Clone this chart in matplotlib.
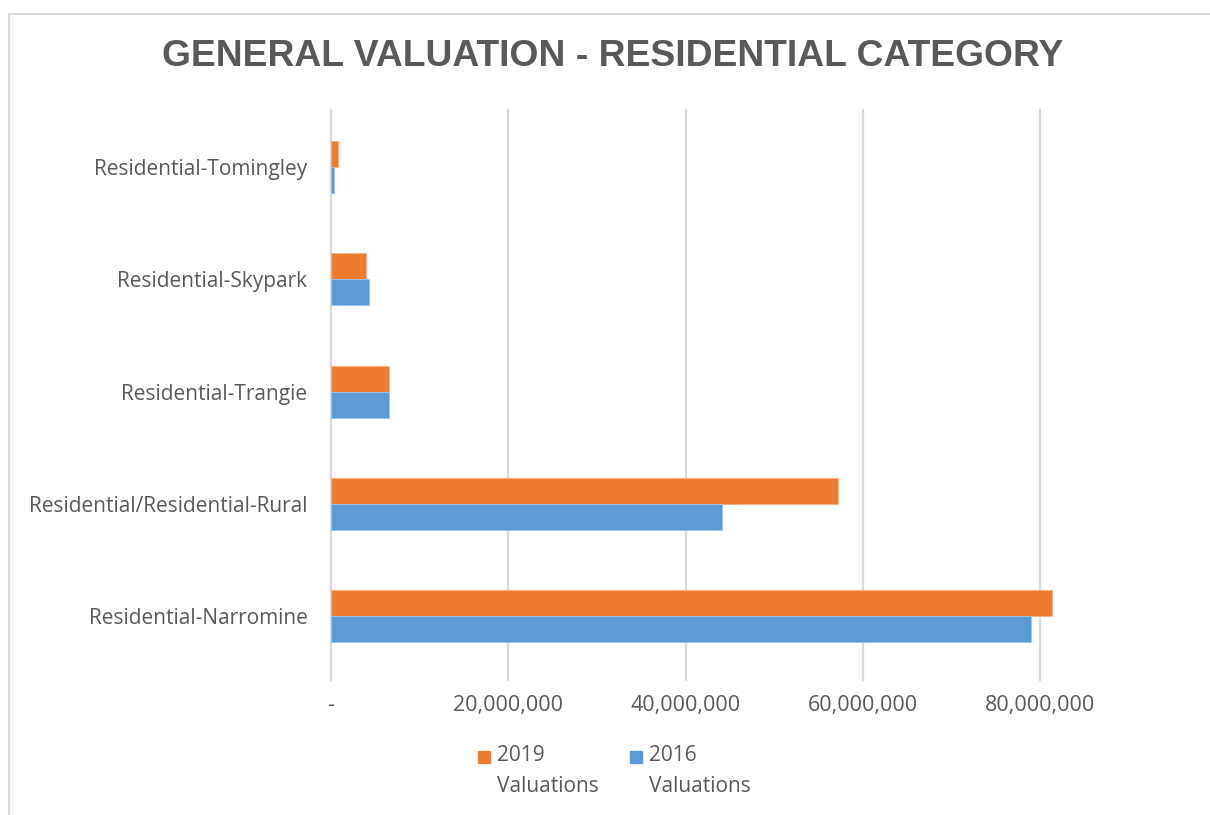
import numpy as np
import matplotlib
matplotlib.use('Agg')
import matplotlib.pyplot as plt
import matplotlib.patches as mpatches
from matplotlib.ticker import FuncFormatter

# data (bottom to top, as drawn)
categories = ['Residential-Narromine', 'Residential/Residential-Rural',
              'Residential-Trangie', 'Residential-Skypark', 'Residential-Tomingley']
val_2019 = [81300000, 57200000, 6500000, 4000000, 750000]
val_2016 = [78900000, 44050000, 6500000, 4250000, 350000]
series_labels = ['2019\nValuations', '2016\nValuations']
x_ticks = [0, 20000000, 40000000, 60000000, 80000000]

c19 = '#ED7D31'
c16 = '#5B9BD5'
txt = '#595959'
grid_c = '#D9D9D9'
body_font = ['Open Sans', 'DejaVu Sans']

fig = plt.figure(figsize=(12.1, 8.15), dpi=100)
ax = fig.add_axes([331 / 1210, 1 - 680 / 815, 798 / 1210, 570 / 815])

y = np.arange(len(categories))
h = 0.232
ax.barh(y + h / 2, val_2019, height=h, color=c19, edgecolor='#F4B183', linewidth=0.6, zorder=3)
ax.barh(y - h / 2, val_2016, height=h, color=c16, edgecolor='#9DC3E6', linewidth=0.6, zorder=3)

ax.set_xlim(0, 90000000)
ax.set_ylim(-0.57, 4.51)
ax.set_xticks(x_ticks)
ax.xaxis.set_major_formatter(FuncFormatter(lambda v, p: '-' if v == 0 else f'{v:,.0f}'))
ax.set_yticks(y)
ax.set_yticklabels(categories)
ax.tick_params(axis='both', length=0, colors=txt)
ax.tick_params(axis='y', pad=17, labelsize=15)
ax.tick_params(axis='x', pad=11, labelsize=15.5)
for lab in ax.get_xticklabels() + ax.get_yticklabels():
    lab.set_family(body_font)
for s in ax.spines.values():
    s.set_visible(False)
for xv in x_ticks:
    ax.axvline(xv, color=grid_c, linewidth=1.6, zorder=1, clip_on=False)

# title
fig.text(0.506, 1 - 57 / 815, 'GENERAL VALUATION - RESIDENTIAL CATEGORY',
         ha='center', va='center', fontsize=26.8, fontweight='bold', color=txt,
         family=['Liberation Sans', 'DejaVu Sans'])

# legend, drawn by hand so the marker sits on the first line
for xs, xt, col, lab in [(478, 497, c19, series_labels[0]), (630, 649, c16, series_labels[1])]:
    fig.patches.append(mpatches.Rectangle((xs / 1210, 1 - 763 / 815), 12 / 1210, 12 / 815,
                                          transform=fig.transFigure, color=col))
    fig.text(xt / 1210, 1 - 745 / 815, lab, ha='left', va='top', fontsize=15,
             color=txt, family=body_font, linespacing=1.6)

# chart border
fig.patches.append(mpatches.Rectangle((9 / 1210, -0.05), 1.1, 1 - 14 / 815 + 0.05,
                                      transform=fig.transFigure, fill=False,
                                      edgecolor='#D9D9D9', linewidth=1.5))

fig.savefig('out.png', dpi=100)
